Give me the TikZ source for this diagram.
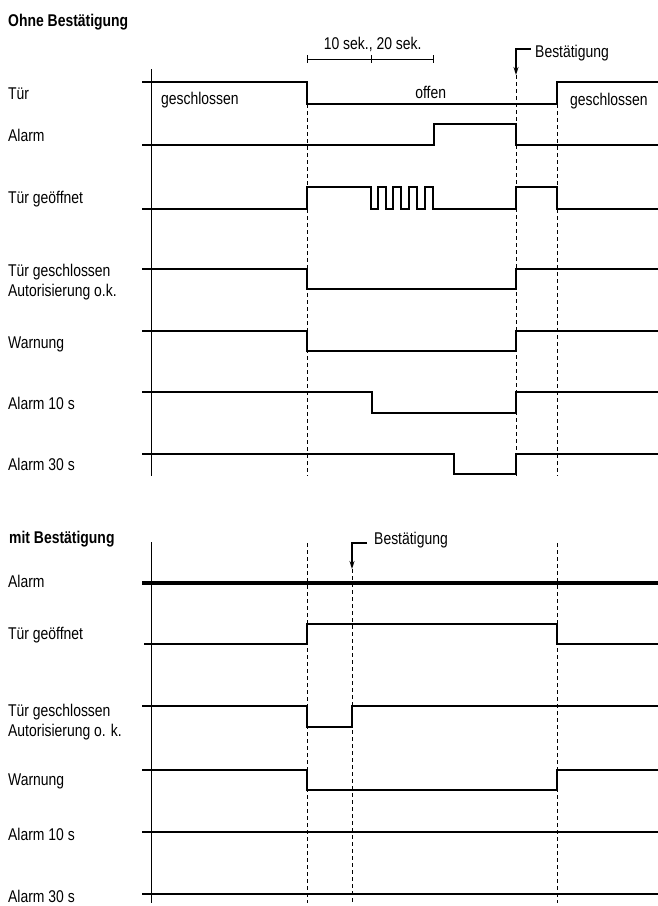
\documentclass[tikz,border=0pt]{standalone}
\usepackage{fontspec}
\setmainfont[FakeStretch=0.82]{Liberation Sans}
\usetikzlibrary{arrows.meta}
\begin{document}
\begin{tikzpicture}[x=1pt,y=-1pt,
  sig/.style={line width=2.7pt, line join=miter, line cap=butt},
  sigthick/.style={line width=3.9pt},
  axisline/.style={line width=1pt},
  guide/.style={line width=0.9pt, dash pattern=on 4pt off 3pt},
  bar/.style={line width=0.8pt},
  ackarrow/.style={line width=1.3pt, -{Stealth[length=8pt,width=5pt]}},
  lbl/.style={anchor=base west, inner sep=0pt, font=\fontsize{17}{20}\selectfont},
  clbl/.style={anchor=base, inner sep=0pt, font=\fontsize{17}{20}\selectfont},
  ttl/.style={anchor=base west, inner sep=0pt, font=\fontsize{17}{20}\selectfont\bfseries},
]
\useasboundingbox (0,0) rectangle (658,906);

% ================= Ohne Bestätigung =================
\node[ttl] (t1) at (8,26) {Ohne Bestätigung};
\node[lbl] (l1a) at (8,99) {Tür};
\node[lbl] (l1b) at (8,141.5) {Alarm};
\node[lbl] (l1c) at (8,203) {Tür geöffnet};
\node[lbl] (l1d) at (8,276.5) {Tür geschlossen};
\node[lbl] (l1e) at (8,296) {Autorisierung o.k.};
\node[lbl] (l1f) at (8,348) {Warnung};
\node[lbl] (l1g) at (8,409) {Alarm 10 s};
\node[lbl] (l1h) at (8,470) {Alarm 30 s};

\node[lbl] (g1) at (161,104) {geschlossen};
\node[clbl] (o1) at (430.7,98) {offen};
\node[lbl] (g2) at (570,105) {geschlossen};
\node[clbl] (ts) at (372.7,49) {10 sek., 20 sek.};
\node[lbl] (b1) at (535,57) {Bestätigung};

% axis and guides
\draw[axisline] (151,69) -- (151,476);
\draw[guide] (307,104) -- (307,476);
\draw[guide] (516,75) -- (516,476);
\draw[guide] (557,104) -- (557,476);

% timing bar
\draw[bar] (307,59) -- (433,59);
\draw[bar] (307,55) -- (307,63);
\draw[bar] (371,55) -- (371,63);
\draw[bar] (433,55) -- (433,63);

% acknowledgement arrow
\coordinate (a1s) at (530.5,49);
\coordinate (a1c) at (516,49);
\coordinate (a1e) at (516,75);
\draw[ackarrow] (a1s) -- (a1c) -- (a1e);

% waveforms
\draw[sig] (142,82) -- (307,82) -- (307,104) -- (557,104) -- (557,82) -- (658,82);
\draw[sig] (142,145) -- (434,145) -- (434,124) -- (516,124) -- (516,145) -- (658,145);
\draw[sig] (142,209) -- (307,209) -- (307,187) -- (371,187) -- (371,209)
  -- (378,209) -- (378,187) -- (386,187) -- (386,209)
  -- (393,209) -- (393,187) -- (401,187) -- (401,209)
  -- (409,209) -- (409,187) -- (417,187) -- (417,209)
  -- (425,209) -- (425,187) -- (433,187) -- (433,209)
  -- (516,209) -- (516,187) -- (557,187) -- (557,209) -- (658,209);
\draw[sig] (142,269) -- (307,269) -- (307,289) -- (516,289) -- (516,269) -- (658,269);
\draw[sig] (142,331) -- (307,331) -- (307,351) -- (516,351) -- (516,331) -- (658,331);
\draw[sig] (142,392) -- (372,392) -- (372,413) -- (516,413) -- (516,392) -- (658,392);
\draw[sig] (142,454) -- (454,454) -- (454,474) -- (516,474) -- (516,454) -- (658,454);

% ================= mit Bestätigung =================
\node[ttl] (t2) at (9,543) {mit Bestätigung};
\node[lbl] (l2a) at (8,587) {Alarm};
\node[lbl] (l2b) at (8,639) {Tür geöffnet};
\node[lbl] (l2c) at (8,716.5) {Tür geschlossen};
\node[lbl] (l2d) at (8,736) {Autorisierung o. k.};
\node[lbl] (l2e) at (8,785) {Warnung};
\node[lbl] (l2f) at (8,840) {Alarm 10 s};
\node[lbl] (l2g) at (8,902) {Alarm 30 s};
\node[lbl] (b2) at (374,544) {Bestätigung};

\draw[axisline] (151,542) -- (151,903);
\draw[guide] (307,543) -- (307,903);
\draw[guide] (352,569) -- (352,903);
\draw[guide] (557,543) -- (557,903);

\coordinate (a2s) at (367,543);
\coordinate (a2c) at (352,543);
\coordinate (a2e) at (352,569);
\draw[ackarrow] (a2s) -- (a2c) -- (a2e);

\draw[sigthick] (142,583) -- (658,583);
\draw[sig] (144,644) -- (307,644) -- (307,624) -- (557,624) -- (557,644) -- (658,644);
\draw[sig] (142,706) -- (307,706) -- (307,727) -- (352,727) -- (352,706) -- (658,706);
\draw[sig] (142,770) -- (307,770) -- (307,790) -- (557,790) -- (557,770) -- (658,770);
\draw[sig] (142,832) -- (658,832);
\draw[sig] (142,894) -- (658,894);
\end{tikzpicture}
\end{document}
